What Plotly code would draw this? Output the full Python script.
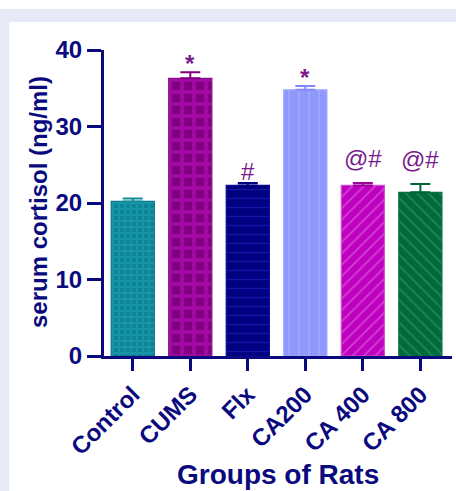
import plotly.graph_objects as go

# Serum cortisol by treatment group (mean ± SEM)
groups = ["Control", "CUMS", "Flx", "CA200", "CA 400", "CA 800"]
cortisol_mean = [20.2, 36.3, 22.3, 34.8, 22.3, 21.4]
cortisol_sem = [0.4, 0.8, 0.3, 0.5, 0.3, 1.1]
significance = ["", "*", "#", "*", "@#", "@#"]

y_ticks = [0, 10, 20, 30, 40]

# per-group fill styling
bg_colors = ["#0b8597", "#800080", "#000080", "#9098fc", "#c000c0", "#006a3c"]
fg_colors = ["#25a6b6", "#c814c8", "#2a2acc", "#b8c8ff", "#de86de", "#4d9c76"]
shapes_ = ["+", "+", "-", "|", "/", "\\"]
sizes = [6, 12, 9, 10, 8, 8]
solid = [0.5, 0.5, 0.15, 0.12, 0.22, 0.22]
edge_colors = ["#0a7a8c", "#8a108a", "#0a0a90", "#a0a8ff", "#d050d0", "#0a7040"]
err_colors = ["#128c9c", "#800080", "#000080", "#8088ff", "#9a009a", "#006633"]

NAVY = "#0a0a7e"
MARK = "#7a1a8c"
FONT = "Liberation Sans, Arial, sans-serif"

fig = go.Figure()
for i, g in enumerate(groups):
    fig.add_trace(go.Bar(
        x=[g], y=[cortisol_mean[i]], width=0.75,
        marker=dict(
            color=bg_colors[i],
            line=dict(color=edge_colors[i], width=1.2),
            pattern=dict(shape=shapes_[i], fgcolor=fg_colors[i], bgcolor=bg_colors[i],
                         size=sizes[i], solidity=solid[i], fillmode="overlay"),
        ),
        error_y=dict(type="data", symmetric=False, array=[cortisol_sem[i]], arrayminus=[0],
                     color=err_colors[i], thickness=2, width=10),
        showlegend=False,
    ))
    lab = significance[i]
    if lab:
        # stars sit high in the glyph box; the combined @# marks sit a bit higher
        shift = -7 if lab == "*" else (9 if "@" in lab else -4)
        fig.add_annotation(
            x=g, y=cortisol_mean[i] + cortisol_sem[i],
            text=f"<b>{lab}</b>" if lab == "*" else lab,
            showarrow=False, yanchor="bottom", yshift=shift,
            font=dict(family=FONT, size=24, color=MARK),
        )

# page backdrop: white strip on top, lavender frame, white panel
W, H = 456, 491
L, R, T, B = 104, 4, 50, 135
pw, ph = W - L - R, H - T - B


def px(x):
    return (x - L) / pw


def py(y):
    return 1 - (y - T) / ph


fig.add_shape(type="rect", xref="paper", yref="paper", x0=px(0), x1=px(W), y0=py(0), y1=py(9),
              fillcolor="white", line_width=0, layer="below")
fig.add_shape(type="rect", xref="paper", yref="paper", x0=px(9), x1=px(W), y0=py(22), y1=py(H),
              fillcolor="white", line_width=0, layer="below")

# axis titles
fig.add_annotation(xref="paper", yref="paper", x=px(38), y=py(202), xanchor="center", yanchor="middle",
                   text="<b>serum cortisol (ng/ml)</b>", textangle=-90, showarrow=False,
                   font=dict(family=FONT, size=24, color=NAVY))
fig.add_annotation(xref="paper", yref="paper", x=px(278), y=py(474), xanchor="center", yanchor="middle",
                   text="<b>Groups of Rats</b>", showarrow=False,
                   font=dict(family=FONT, size=28, color=NAVY))

fig.update_layout(
    width=W, height=H,
    margin=dict(l=L, r=R, t=T, b=B),
    paper_bgcolor="#e7eaf6",
    plot_bgcolor="white",
    barmode="overlay",
    font=dict(family=FONT, color=NAVY),
    xaxis=dict(
        categoryorder="array", categoryarray=groups, range=[-0.5, 5.55],
        showline=True, linecolor=NAVY, linewidth=3,
        ticks="outside", ticklen=12, tickwidth=3, tickcolor=NAVY,
        tickangle=-45, tickfont=dict(family=FONT, size=24, color=NAVY, weight="bold"),
        showgrid=False, zeroline=False,
    ),
    yaxis=dict(
        range=[0, 40], tickvals=y_ticks, ticktext=[str(v) for v in y_ticks],
        showline=True, linecolor=NAVY, linewidth=3,
        ticks="outside", ticklen=14, tickwidth=3, tickcolor=NAVY,
        tickfont=dict(family=FONT, size=24, color=NAVY, weight="bold"),
        showgrid=False, zeroline=False,
    ),
)

fig.write_html("out.html")
